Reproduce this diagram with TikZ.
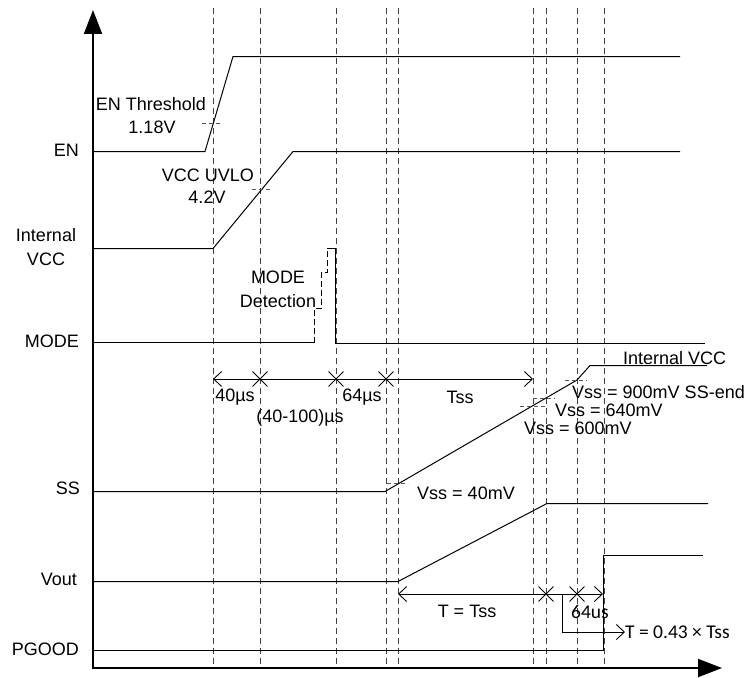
\documentclass[tikz,border=0pt]{standalone}
\usepackage{fontspec}
\setmainfont{Liberation Sans}
\newfontfamily\calfont{Carlito}
\usetikzlibrary{arrows.meta}
\usetikzlibrary{shapes.misc}

\begin{document}
\begin{tikzpicture}[x=1pt, y=-1pt, inner sep=0pt, font=\fontsize{18}{24}\selectfont,
	signal/.style={line width=1pt},
	axis/.style={line width=2pt},
	guide/.style={color=black!75, line width=0.9pt, dash pattern=on 6pt off 4pt},
	level/.style={color=black!65, line width=0.8pt, dash pattern=on 4pt off 3pt},
	tmark/.style={cross out, draw, line width=0.9pt, minimum size=14pt},
	calib/.style={font=\calfont\fontsize{19.5}{24}\selectfont},
	barb/.tip={Straight Barb[length=8pt, width=15pt]}]
	\useasboundingbox (0,0) rectangle (751,677);

	%time guides
	\draw[guide] (213,8) -- (213,668); % EN threshold
	\draw[guide] (260,8) -- (260,668); % UVLO
	\draw[guide] (336,8) -- (336,668); % mode end
	\draw[guide] (386,8) -- (386,668); % SS start
	\draw[guide] (398,8) -- (398,668); % Vout start
	\draw[guide] (533,8) -- (533,668); % 600mV
	\draw[guide] (546,8) -- (546,668); % 640mV
	\draw[guide] (577,8) -- (577,668); % 900mV
	\draw[guide] (604,8) -- (604,668); % PGOOD
	%
	%axes
	\draw[axis, {Triangle[length=24pt, width=18pt]}-{Triangle[length=24pt, width=18pt]}] (93,10) -- (93,668) -- (722,668);
	%
	%waveforms
	\draw[signal] (93,151.5) -- (205,151.5) -- (233,56.5) -- (680,56.5); % EN
	\draw[signal] (93,248.5) -- (213,248.5) -- (293,151.5) -- (680,151.5); % internal VCC
	\draw[signal] (93,342.5) -- (314,342.5); % MODE low
	\draw[signal, dash pattern=on 6pt off 3pt] (314,342.5) -- (314,308) -- (321,308) -- (321,272) -- (327,272) -- (327,248.5); % detection steps
	\draw[signal] (327,248.5) -- (335,248.5) -- (335,343.5) -- (705,343.5); % MODE pulse
	\draw[signal] (93,491.5) -- (385,491.5) -- (577,380) -- (590,365.5) -- (707,365.5); % SS
	\draw[signal] (93,581.5) -- (398,581.5) -- (547,503.5) -- (708,503.5); % Vout
	\draw[signal] (93,650.5) -- (603,650.5) -- (603,555.5) -- (703,555.5); % PGOOD
	%
	%level marks
	\draw[level] (202,123) -- (223,123); % 1.18V
	\draw[level] (252,189) -- (273,189); % 4.2V
	\draw[level] (387,483) -- (408,483); % 40mV
	\draw[level] (520,406) -- (545,406); % 600mV
	\draw[level] (533,398) -- (555,398); % 640mV
	\draw[level] (565,380) -- (587,380); % 900mV
	%
	%timing spans
	\draw[line width=0.9pt, barb-barb] (213,379) -- (533,379);
	\node[tmark] (m1) at (260,379) {};
	\node[tmark] (m2) at (336,379) {};
	\node[tmark] (m3) at (386,379) {};
	\draw[line width=0.9pt, barb-barb] (398,594) -- (603,594);
	\node[tmark] (m4) at (546,594) {};
	\node[tmark] (m5) at (577,594) {};
	\coordinate (k) at (625,632);
	\draw[line width=0.9pt, -barb] (562,594) |- (k);
	%
	%signal names
	\node[anchor=east] (en) at (79,150) {EN};
	\node[align=center] (vcc) at (46,247) {Internal\\VCC};
	\node[anchor=east] (mode) at (79,341) {MODE};
	\node[anchor=east] (ss) at (80,488) {SS};
	\node[anchor=east] (vout) at (77,579) {Vout};
	\node[anchor=east] (pg) at (79,649) {PGOOD};
	%
	%annotations
	\node (thr) at (151,104) {EN Threshold};
	\node (thrv) at (152,127) {1.18V};
	\node (uvlo) at (208,175) {VCC UVLO};
	\node (uvlov) at (207,197) {4.2V};
	\node[align=center] (det) at (278,289) {MODE\\Detection};
	\node (t40) at (235,397) {40µs};
	\node (t100) at (300,418) {(40-100)µs};
	\node (t64) at (362,397) {64µs};
	\node (tss) at (460,397) {Tss};
	\node[anchor=west] (ivcc) at (623,358) {Internal VCC};
	\node[anchor=west] (v900) at (572,392) {Vss = 900mV SS-end};
	\node[anchor=west] (v640) at (555,410) {Vss = 640mV};
	\node[anchor=west] (v600) at (524,428) {Vss = 600mV};
	\node (v40) at (466,493) {Vss = 40mV};
	\node (ttss) at (467,611) {T = Tss};
	\node[calib] (t64b) at (590,612) {64us};
	\node[calib, anchor=west] (t043) at (k) {T = 0.43 × Tss};
\end{tikzpicture}
\end{document}
